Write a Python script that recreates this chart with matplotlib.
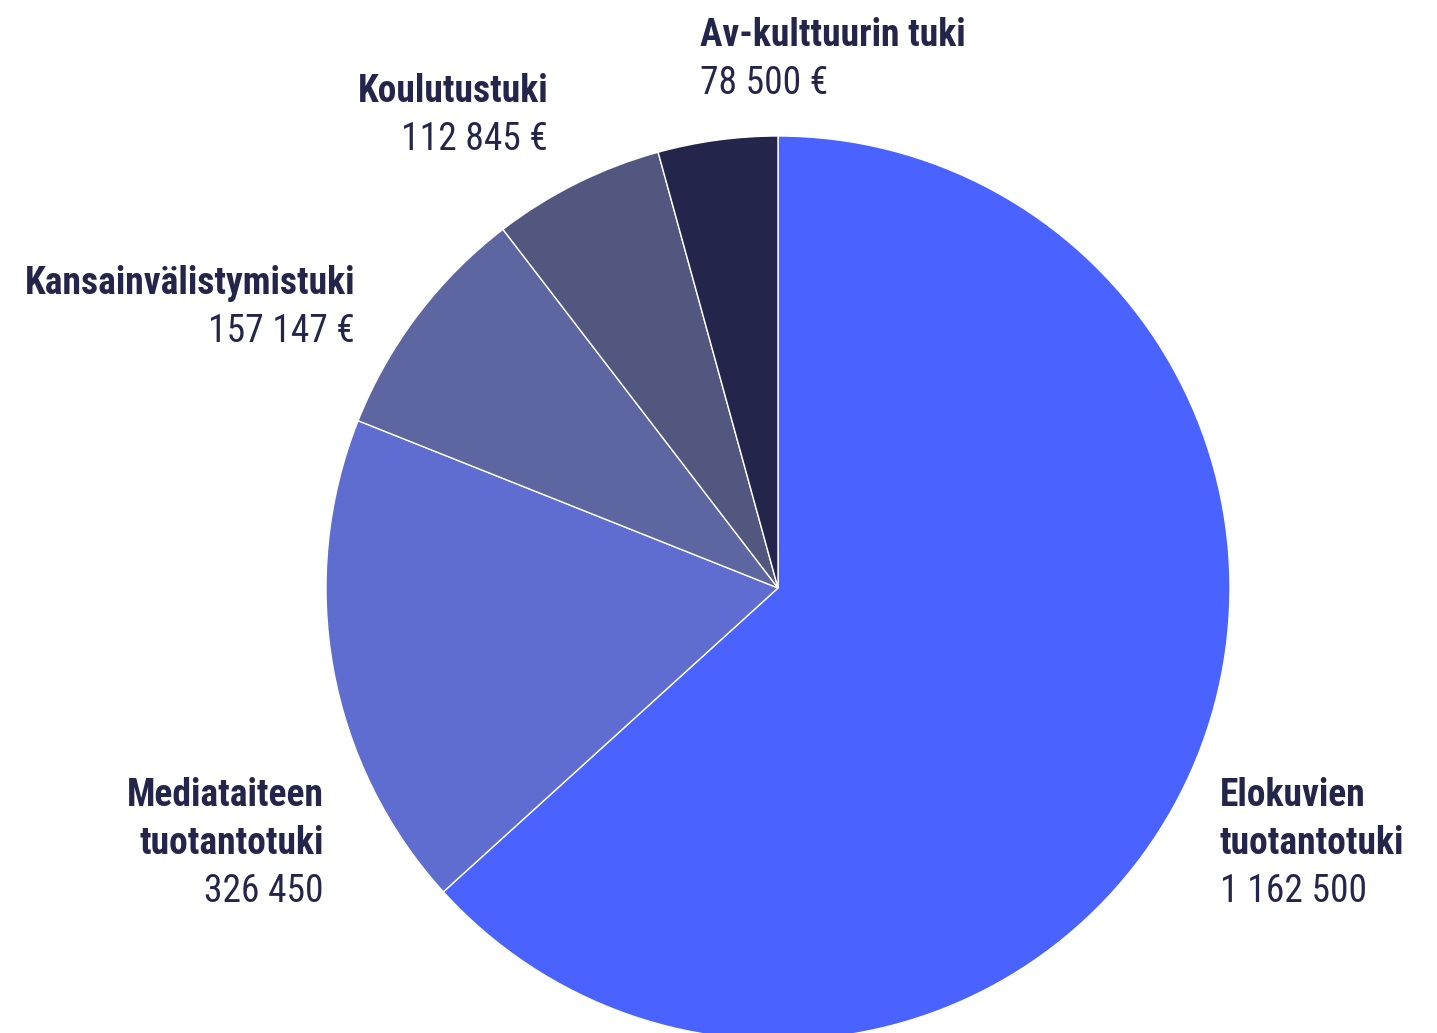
import matplotlib
matplotlib.use("Agg")
from matplotlib import pyplot as plt
from matplotlib import font_manager

names = ["Elokuvien\ntuotantotuki", "Mediataiteen\ntuotantotuki", "Kansainvälistymistuki",
         "Koulutustuki", "Av-kulttuurin tuki"]
values = [1162500, 326450, 157147, 112845, 78500]
value_labels = ["1 162 500", "326 450", "157 147 €", "112 845 €", "78 500 €"]
colors = ["#4a62ff", "#5f6cd0", "#5d66a0", "#51577f", "#23264a"]

text_color = "#23264a"
available = {f.name for f in font_manager.fontManager.ttflist}
family = ["Roboto Condensed", "Roboto"] if "Roboto Condensed" in available else ["Roboto"]

W, H = 1437, 1033
fig = plt.figure(figsize=(W / 100, H / 100), dpi=100)
ax = fig.add_axes([0, 0, 1, 1])

ax.pie(values, colors=colors, startangle=90, counterclock=False,
       center=(778, H - 588), radius=452, frame=True,
       wedgeprops=dict(edgecolor="white", linewidth=1))
ax.set_xlim(0, W)
ax.set_ylim(0, H)
ax.set_aspect("equal")
ax.axis("off")

# label anchors in pixel coords (x, y of first line, alignment)
anchors = [(1220, 795, "left"), (324, 795, "right"), (355, 284, "right"),
           (548, 91, "right"), (700, 36, "left")]
step = 48
for name, val, (x, y, ha) in zip(names, value_labels, anchors):
    lines = name.split("\n")
    for i, line in enumerate(lines):
        ax.text(x, H - (y + i * step), line, ha=ha, va="center", fontsize=27,
                fontweight="bold", color=text_color, family=family)
    ax.text(x, H - (y + len(lines) * step), val, ha=ha, va="center", fontsize=27,
            color=text_color, family=family)

fig.savefig("out.png", dpi=100)
